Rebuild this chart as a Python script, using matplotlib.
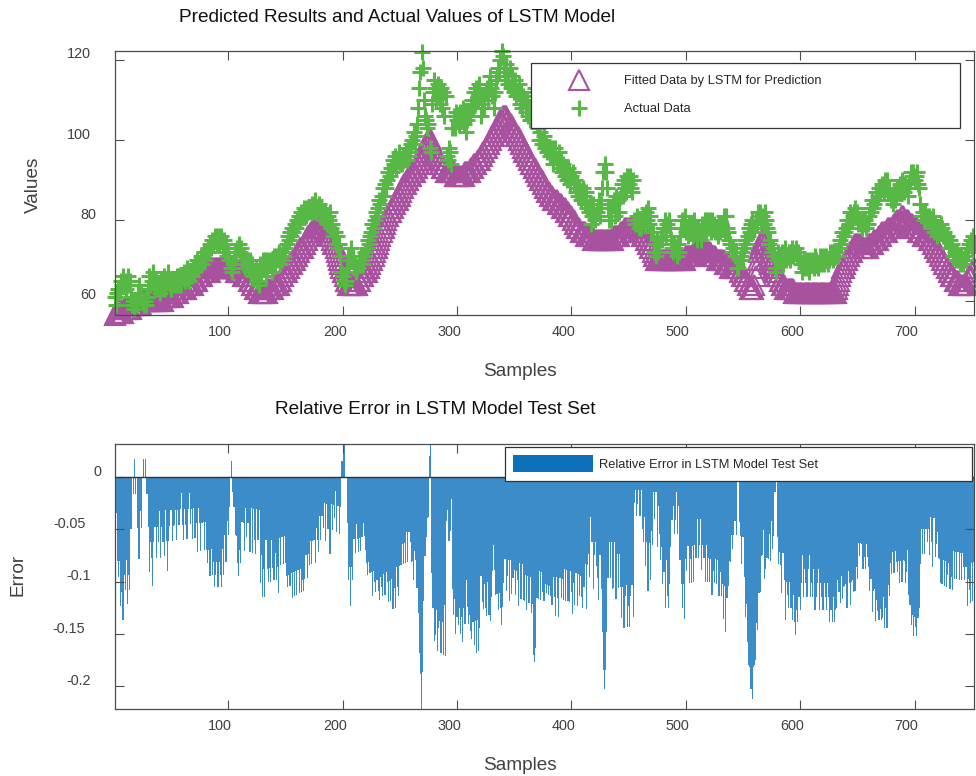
import numpy as np
import matplotlib
matplotlib.use('Agg')
import matplotlib.pyplot as plt
from matplotlib.lines import Line2D
from matplotlib.patches import Patch

plt.rcParams['font.family'] = ['Liberation Sans', 'DejaVu Sans']

# values, one row = 10 samples
actual_values = [
    61, 59, 62, 63, 62, 65, 64, 66, 64, 65,
    63, 66, 64, 65, 61, 59, 60, 58, 60, 59,
    62, 64, 61, 62, 60, 59, 60, 59, 61, 63,
    66, 64, 65, 67, 64, 63, 65, 63, 64, 62,
    65, 63, 64, 66, 63, 65, 67, 65, 64, 63,
    65, 64, 65, 64, 66, 64, 66, 65, 64, 66,
    67, 65, 66, 68, 66, 65, 67, 66, 68, 67,
    69, 68, 70, 68, 69, 71, 69, 70, 72, 70,
    72, 73, 72, 74, 73, 75, 74, 76, 75, 74,
    76, 74, 75, 76, 73, 75, 72, 74, 71, 72,
    70, 68, 67, 69, 70, 72, 71, 73, 74, 72,
    73, 70, 69, 71, 68, 70, 69, 68, 70, 67,
    69, 66, 67, 68, 65, 67, 64, 69, 67, 70,
    68, 70, 66, 68, 70, 69, 70, 67, 69, 71,
    69, 71, 70, 72, 69, 71, 70, 72, 71, 73,
    74, 76, 75, 77, 76, 78, 77, 79, 78, 80,
    79, 81, 80, 82, 81, 83, 82, 81, 83, 82,
    83, 82, 84, 82, 83, 85, 82, 83, 84, 81,
    83, 81, 82, 80, 82, 79, 81, 80, 82, 78,
    79, 76, 77, 74, 76, 73, 74, 71, 67, 66,
    65, 64, 65, 68, 71, 70, 73, 70, 71, 68,
    69, 67, 68, 70, 69, 71, 70, 69, 71, 72,
    73, 75, 74, 76, 77, 79, 78, 80, 82, 81,
    83, 85, 84, 86, 88, 86, 89, 88, 90, 92,
    91, 93, 92, 95, 94, 96, 93, 95, 97, 94,
    95, 94, 96, 95, 97, 95, 98, 96, 97, 99,
    100, 102, 99, 101, 104, 108, 113, 117, 122, 118,
    110, 106, 105, 103, 104, 98, 97, 109, 112, 115,
    113, 110, 114, 111, 109, 113, 108, 112, 106, 111,
    96, 95, 98, 97, 94, 103, 106, 103, 107, 105,
    106, 104, 107, 105, 108, 104, 107, 102, 105, 107,
    106, 109, 110, 108, 112, 109, 113, 110, 114, 111,
    106, 109, 111, 108, 112, 113, 110, 114, 116, 113,
    111, 108, 112, 115, 116, 118, 117, 120, 122.3, 121,
    118, 115, 119, 116, 114, 118, 113, 116, 114, 112,
    115, 111, 112, 114, 109, 112, 108, 111, 110, 107,
    110, 106, 108, 105, 108, 107, 112, 113, 110, 104,
    103, 100, 102, 99, 100, 101, 98, 99, 97, 98,
    96, 97, 98, 94, 96, 98, 94, 95, 97, 93,
    95, 92, 94, 91, 93, 90, 93, 92, 89, 91,
    92, 89, 90, 87, 89, 86, 88, 85, 87, 88,
    86, 84, 87, 83, 82, 84, 79, 81, 84, 81,
    80, 82, 83, 85, 81, 84, 88, 92, 94, 92,
    88, 83, 80, 83, 80, 84, 85, 81, 86, 82,
    85, 82, 86, 89, 86, 90, 88, 87, 91, 89,
    91, 88, 87, 90, 80, 79, 81, 79, 78, 80,
    78, 80, 81, 79, 82, 80, 83, 79, 81, 77,
    77, 72, 74, 71, 75, 72, 74, 76, 75, 78,
    77, 80, 76, 79, 80, 78, 75, 73, 72, 74,
    73, 71, 74, 72, 76, 78, 80, 78, 81, 77,
    78, 76, 79, 77, 79, 76, 80, 77, 78, 75,
    78, 77, 75, 79, 77, 78, 80, 77, 80, 78,
    80, 77, 80, 78, 79, 77, 78, 76, 79, 77,
    79, 78, 81, 77, 81, 78, 77, 75, 74, 72,
    73, 72, 71, 72, 68, 68, 70, 71, 72, 70,
    73, 75, 74, 76, 78, 77, 79, 80, 77, 78,
    80, 79, 82, 81, 82, 80, 81, 79, 82, 80,
    78, 77, 74, 75, 72, 73, 71, 68, 67, 70,
    72, 70, 71, 72, 69, 71, 73, 70, 71, 72,
    70, 72, 73, 71, 72, 73, 71, 72, 70, 71,
    69, 67, 70, 68, 69, 70, 68, 67, 70, 69,
    70, 68, 71, 70, 69, 68, 71, 69, 70, 71,
    69, 70, 71, 69, 70, 72, 71, 72, 70, 72,
    71, 72, 71, 73, 75, 74, 77, 76, 77, 78,
    80, 78, 79, 82, 80, 81, 82, 83, 81, 82,
    79, 80, 79, 78, 80, 79, 80, 78, 79, 81,
    83, 82, 85, 83, 84, 87, 85, 86, 88, 87,
    88, 89, 87, 90, 88, 90, 87, 88, 85, 86,
    84, 87, 85, 86, 88, 87, 89, 87, 90, 88,
    87, 89, 88, 86, 89, 90, 92, 91, 92, 90,
    91, 92, 89, 88, 84, 81, 82, 80, 82, 80,
    81, 80, 81, 78, 80, 81, 77, 79, 78, 76,
    78, 77, 79, 78, 76, 77, 75, 76, 75, 73,
    75, 73, 74, 71, 72, 70, 72, 70, 71, 69,
    71, 69, 70, 71, 70, 73, 72, 74, 75, 73,
    76, 74,
]

fitted_values = [
    56.4, 57, 57, 57, 57, 57, 57, 57, 58, 58,
    58, 58, 58, 58, 58, 59, 59, 59, 59, 59,
    59, 59, 59, 59, 60, 60, 60, 60, 60, 60,
    60, 60, 60, 60, 60, 60, 60, 60, 60, 60,
    60, 60, 60, 61, 61, 61, 61, 61, 61, 61,
    61, 61, 62, 62, 62, 62, 63, 63, 63, 63,
    63, 63, 63, 64, 64, 64, 64, 64, 64, 65,
    65, 65, 65, 66, 66, 66, 66, 67, 67, 67,
    67, 67, 67, 67, 68, 68, 68, 68, 68, 68,
    68, 68, 68, 68, 68, 68, 68, 68, 68, 68,
    68, 68, 68, 68, 68, 68, 67, 67, 67, 67,
    67, 67, 66, 66, 66, 66, 66, 65, 65, 65,
    64, 64, 63, 63, 63, 63, 62, 62, 62, 62,
    62, 62, 62, 62, 63, 63, 63, 63, 63, 64,
    64, 64, 64, 64, 65, 65, 66, 66, 67, 67,
    67, 68, 68, 69, 69, 69, 70, 70, 71, 71,
    72, 72, 73, 73, 73, 74, 74, 75, 75, 76,
    76, 77, 77, 77, 78, 78, 78, 78, 78, 78,
    78, 78, 78, 78, 77, 77, 77, 76, 76, 76,
    75, 74, 74, 73, 72, 71, 70, 69, 68, 67,
    67, 66, 65, 65, 64, 64, 64, 64, 64, 64,
    64, 64, 64, 65, 65, 66, 66, 66, 67, 67,
    67, 68, 68, 69, 70, 70, 71, 72, 73, 73,
    74, 75, 76, 77, 78, 78, 79, 80, 81, 81,
    82, 82, 83, 83, 84, 84, 85, 85, 86, 86,
    87, 88, 88, 89, 89, 90, 90, 91, 91, 91,
    92, 92, 92, 93, 93, 94, 94, 95, 95, 96,
    97, 98, 99, 99, 100, 100, 100, 99, 98, 97,
    96, 96, 95, 95, 94, 94, 93, 93, 93, 92,
    92, 92, 92, 92, 92, 92, 92, 91, 91, 91,
    91, 91, 91, 91, 91, 91, 92, 92, 92, 92,
    92, 93, 93, 93, 94, 94, 94, 95, 95, 95,
    96, 96, 97, 97, 98, 98, 99, 99, 100, 100,
    101, 101, 102, 102, 103, 103, 104, 105, 105, 106,
    106, 106, 106, 105, 105, 104, 104, 103, 103, 102,
    102, 101, 101, 100, 100, 99, 99, 98, 97, 97,
    96, 96, 95, 95, 94, 94, 93, 93, 92, 92,
    91, 91, 90, 90, 89, 89, 88, 88, 87, 87,
    86, 86, 86, 85, 85, 85, 85, 84, 84, 84,
    84, 83, 83, 83, 82, 82, 82, 81, 81, 81,
    80, 80, 79, 79, 78, 78, 78, 77, 77, 77,
    77, 77, 76, 76, 76, 76, 76, 76, 75, 75,
    75, 75, 75, 75, 75, 75, 75, 75, 75, 75,
    75, 75, 75, 75, 75, 75, 76, 76, 76, 76,
    76, 76, 77, 77, 77, 77, 78, 78, 78, 78,
    78, 78, 78, 78, 78, 78, 78, 77, 77, 77,
    77, 76, 76, 76, 75, 75, 74, 74, 73, 73,
    72, 71, 71, 70, 70, 70, 70, 70, 70, 70,
    70, 70, 70, 70, 70, 70, 70, 70, 70, 70,
    70, 70, 70, 70, 70, 70, 70, 70, 70, 71,
    71, 71, 71, 71, 71, 71, 72, 72, 72, 72,
    72, 72, 72, 72, 72, 72, 72, 72, 72, 72,
    72, 71, 71, 71, 71, 71, 70, 70, 70, 70,
    70, 70, 70, 69, 69, 69, 69, 69, 68, 68,
    68, 68, 68, 68, 68, 68, 67, 67, 66, 66,
    66, 65, 65, 64, 64, 63, 63, 63, 63, 64,
    66, 68, 70, 72, 73, 74, 75, 75, 74, 73,
    72, 71, 70, 69, 69, 68, 67, 67, 67, 66,
    66, 65, 65, 64, 64, 64, 63, 63, 63, 63,
    63, 63, 63, 63, 62, 62, 62, 62, 62, 62,
    62, 62, 62, 62, 62, 62, 62, 62, 62, 62,
    62, 62, 62, 62, 62, 62, 62, 62, 62, 62,
    62, 62, 62, 62, 62, 62, 62, 62, 62, 62,
    62, 63, 64, 65, 66, 67, 68, 68, 69, 70,
    70, 71, 71, 72, 72, 73, 73, 74, 74, 74,
    74, 74, 74, 73, 73, 73, 73, 73, 73, 74,
    74, 74, 74, 74, 75, 75, 75, 75, 76, 76,
    76, 77, 77, 77, 77, 77, 78, 78, 78, 78,
    78, 79, 79, 79, 80, 80, 80, 80, 81, 81,
    80, 80, 80, 80, 79, 79, 79, 79, 78, 78,
    78, 78, 77, 77, 77, 77, 76, 76, 76, 76,
    76, 76, 75, 75, 75, 74, 74, 73, 73, 72,
    72, 71, 71, 70, 70, 69, 69, 68, 68, 67,
    67, 66, 66, 66, 65, 65, 65, 65, 64, 64,
    64, 64, 64, 64, 64, 64, 65, 66, 66, 67,
    67, 68,
]

x_ticks = [100, 200, 300, 400, 500, 600, 700]
top_y_ticks = [60, 80, 100, 120]
err_ticks = [-0.2, -0.15, -0.1, -0.05, 0]
err_tick_labels = ['-0.2', '-0.15', '-0.1', '-0.05', '0']

assert len(actual_values) == len(fitted_values)
actual = np.array(actual_values, dtype=float)
fitted = np.array(fitted_values, dtype=float)
samples = np.arange(1, len(actual) + 1)
rel_error = (fitted - actual) / actual

W, H = 976, 776
txt = '#262626'
axc = '#4d4d4d'
lblc = '#404040'
purple = '#A8519E'
green = '#57B846'
bar_blue = '#3B8CC8'
leg_blue = '#0B6FBA'
tick_fs = 10.4


def style_axes(ax):
    for sp in ax.spines.values():
        sp.set_color(axc)
        sp.set_linewidth(0.9)
    ax.tick_params(direction='in', top=True, right=True, length=6.3,
                   width=0.8, color=axc, labelbottom=False, labelleft=False)


fig = plt.figure(figsize=(W / 100, H / 100), dpi=100)

# upper panel
ax1 = fig.add_axes([115 / W, 1 - 315 / H, 859 / W, 264.3 / H])
ax1.plot(samples, fitted, linestyle='none', marker='^', ms=15, mfc='none',
         mec=purple, mew=1.5, clip_on=False)
ax1.plot(samples, actual, linestyle='none', marker='+', ms=11.5, mec=green,
         mew=2.2, clip_on=False)
ax1.set_xlim(1, len(samples))
ax1.set_ylim(min(fitted.min(), actual.min()), max(fitted.max(), actual.max()))
ax1.set_xticks(x_ticks)
ax1.set_yticks(top_y_ticks)
style_axes(ax1)

h1 = [Line2D([], [], linestyle='none', marker='^', ms=15, mfc='none',
             mec=purple, mew=1.5),
      Line2D([], [], linestyle='none', marker='+', ms=11.5, mec=green, mew=2.2)]
leg1 = ax1.legend(h1, ['Fitted Data by LSTM for Prediction', 'Actual Data'],
                  loc='upper left',
                  bbox_to_anchor=(531 / W, 1 - 63 / H - 0.01, 429 / W, 0.01),
                  bbox_transform=fig.transFigure, mode='expand', borderaxespad=0,
                  fancybox=False, framealpha=1, edgecolor='#333333', fontsize=9.3,
                  handlelength=5.51, handletextpad=0.73, labelspacing=1.23,
                  borderpad=0.96)
leg1.get_frame().set_linewidth(0.9)
for t in leg1.get_texts():
    t.set_color(txt)

fig.text(397 / W, 1 - 17 / H, 'Predicted Results and Actual Values of LSTM Model',
         ha='center', va='center', fontsize=13.7, color='#111111')
fig.text(520 / W, 1 - 371 / H, 'Samples', ha='center', va='center',
         fontsize=13.7, color=lblc)
fig.text(33 / W, 1 - 185 / H, 'Values', ha='center', va='center',
         rotation=90, fontsize=13.7, color=lblc)

# lower panel
ax2 = fig.add_axes([115 / W, 1 - 708.7 / H, 859 / W, 264.4 / H])
ax2.bar(samples, rel_error, width=1.0, color=bar_blue, linewidth=0)
ax2.axhline(0, color='#333333', lw=1.0, zorder=3)
ax2.set_xlim(1, len(samples))
ax2.set_ylim(rel_error.min(), rel_error.max())
ax2.set_xticks(x_ticks)
ax2.set_yticks(err_ticks)
style_axes(ax2)

leg2 = ax2.legend([Patch(facecolor=leg_blue, edgecolor='none')],
                  ['Relative Error in LSTM Model Test Set'],
                  loc='upper left',
                  bbox_to_anchor=(505 / W, 1 - 447 / H - 0.01, 467 / W, 0.01),
                  bbox_transform=fig.transFigure, mode='expand', borderaxespad=0,
                  fancybox=False, framealpha=1, edgecolor='#333333', fontsize=9.3,
                  handlelength=6.19, handleheight=1.63, handletextpad=0.46,
                  borderpad=0.65)
leg2.get_frame().set_linewidth(0.9)
for t in leg2.get_texts():
    t.set_color(txt)

fig.text(435 / W, 1 - 410 / H, 'Relative Error in LSTM Model Test Set',
         ha='center', va='center', fontsize=13.7, color='#111111')
fig.text(520 / W, 1 - 765 / H, 'Samples', ha='center', va='center',
         fontsize=13.7, color=lblc)
fig.text(18 / W, 1 - 575 / H, 'Error', ha='center', va='center',
         rotation=90, fontsize=13.7, color=lblc)

# tick labels, placed the way the original export has them
# (anchored on a wider text box, so they sit a little left / up of the tick)
fig.canvas.draw()
rend = fig.canvas.get_renderer()


def tick_texts(ax, xvals, yvals, ylabels, xlab_top_px):
    for v in xvals:
        t = fig.text(0, 0, str(v), fontsize=tick_fs, color=lblc,
                     ha='left', va='center')
        w = t.get_window_extent(rend).width
        xp = ax.transData.transform((v, 0))[0]
        t.set_position(((xp - 1.67 * w / 2) / W, 1 - xlab_top_px / H))
    for v, lab in zip(yvals, ylabels):
        t = fig.text(0, 0, lab, fontsize=tick_fs, color=lblc,
                     ha='left', va='center')
        w = t.get_window_extent(rend).width
        yp = ax.transData.transform((1, v))[1]
        t.set_position(((107 - 1.67 * w) / W, (yp + 5.5) / H))


tick_texts(ax1, x_ticks, top_y_ticks, [str(v) for v in top_y_ticks], 332)
tick_texts(ax2, x_ticks, err_ticks, err_tick_labels, 726)

fig.savefig('out.png', dpi=100)
